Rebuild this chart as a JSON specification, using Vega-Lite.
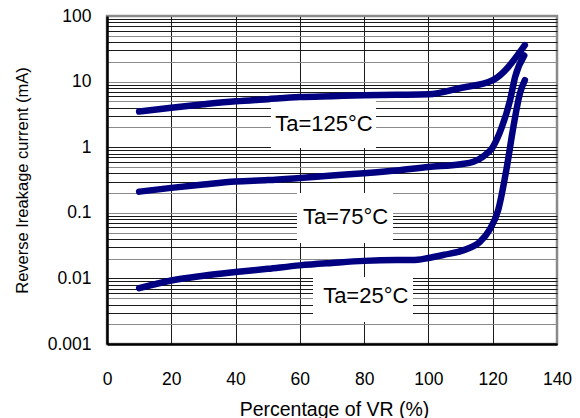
{
  "$schema": "https://vega.github.io/schema/vega-lite/v6.json",
  "width": 450,
  "height": 328,
  "autosize": {"type": "none"},
  "padding": {"left": 107, "top": 16, "right": 23, "bottom": 74},
  "background": "white",
  "config": {
    "font": "Liberation Sans",
    "view": {"stroke": "#8a8a8a", "strokeWidth": 2.5}
  },
  "datasets": {
    "curves": [
      {"s": "125", "x": 10, "y": 3.5},
      {"s": "125", "x": 20, "y": 4.0},
      {"s": "125", "x": 30, "y": 4.5},
      {"s": "125", "x": 40, "y": 5.0},
      {"s": "125", "x": 50, "y": 5.4},
      {"s": "125", "x": 60, "y": 5.8},
      {"s": "125", "x": 70, "y": 6.0},
      {"s": "125", "x": 80, "y": 6.2},
      {"s": "125", "x": 90, "y": 6.3},
      {"s": "125", "x": 100, "y": 6.4},
      {"s": "125", "x": 110, "y": 8.0},
      {"s": "125", "x": 120, "y": 10.5},
      {"s": "125", "x": 130, "y": 36},
      {"s": "75", "x": 10, "y": 0.21},
      {"s": "75", "x": 20, "y": 0.24},
      {"s": "75", "x": 30, "y": 0.27},
      {"s": "75", "x": 40, "y": 0.30},
      {"s": "75", "x": 50, "y": 0.315},
      {"s": "75", "x": 60, "y": 0.34},
      {"s": "75", "x": 70, "y": 0.37},
      {"s": "75", "x": 80, "y": 0.40},
      {"s": "75", "x": 90, "y": 0.44},
      {"s": "75", "x": 100, "y": 0.50},
      {"s": "75", "x": 110, "y": 0.55},
      {"s": "75", "x": 114, "y": 0.6},
      {"s": "75", "x": 117, "y": 0.72},
      {"s": "75", "x": 120, "y": 1.0},
      {"s": "75", "x": 122.8, "y": 2.0},
      {"s": "75", "x": 125.4, "y": 5.2},
      {"s": "75", "x": 127, "y": 11.9},
      {"s": "75", "x": 129.8, "y": 25},
      {"s": "25", "x": 10, "y": 0.0071},
      {"s": "25", "x": 20, "y": 0.0093},
      {"s": "25", "x": 30, "y": 0.011},
      {"s": "25", "x": 40, "y": 0.0125},
      {"s": "25", "x": 50, "y": 0.014},
      {"s": "25", "x": 60, "y": 0.0158},
      {"s": "25", "x": 70, "y": 0.0172},
      {"s": "25", "x": 80, "y": 0.0185},
      {"s": "25", "x": 90, "y": 0.019},
      {"s": "25", "x": 95, "y": 0.019},
      {"s": "25", "x": 100, "y": 0.0205},
      {"s": "25", "x": 105, "y": 0.023},
      {"s": "25", "x": 111, "y": 0.027},
      {"s": "25", "x": 116, "y": 0.036},
      {"s": "25", "x": 119, "y": 0.055},
      {"s": "25", "x": 121.7, "y": 0.11},
      {"s": "25", "x": 124.4, "y": 0.5},
      {"s": "25", "x": 126.4, "y": 2.0},
      {"s": "25", "x": 128.5, "y": 6.7},
      {"s": "25", "x": 130, "y": 10.5}
    ],
    "labels": [
      {"text": "Ta=125°C", "x": 67.5, "y": 2.26, "bx1": 51, "bx2": 83.7, "by1": 0.973, "by2": 5.62},
      {"text": "Ta=75°C", "x": 74.2, "y": 0.0863, "bx1": 59.1, "bx2": 89.0, "by1": 0.0347, "by2": 0.2},
      {"text": "Ta=25°C", "x": 80.5, "y": 0.0054, "bx1": 64.1, "bx2": 95.2, "by1": 0.00216, "by2": 0.0105}
    ]
  },
  "layer": [
    {
      "data": {"name": "labels"},
      "mark": {"type": "rect", "fill": "white"},
      "encoding": {
        "x": {
          "field": "bx1", "type": "quantitative",
          "scale": {"domain": [0, 140], "nice": false},
          "axis": {
            "values": [0, 20, 40, 60, 80, 100, 120, 140],
            "format": "d",
            "grid": true,
            "gridColor": {"condition": {"test": "datum.value == 0 || datum.value == 140", "value": "#8a8a8a"}, "value": "#1a1a1a"},
            "gridWidth": 1,
            "gridOpacity": 1,
            "ticks": false,
            "labelFlush": false,
            "labelPadding": 26,
            "labelFontSize": 17.5,
            "labelColor": "black",
            "domainColor": "black",
            "domainWidth": 2.5,
            "title": "Percentage of VR (%)",
            "titleFontSize": 19.5,
            "titleFontWeight": "normal",
            "titleColor": "black",
            "titleX": 227,
            "titleY": 71,
            "titleBaseline": "alphabetic",
            "titleAlign": "center"
          }
        },
        "x2": {"field": "bx2"},
        "y": {
          "field": "by1", "type": "quantitative",
          "scale": {"type": "log", "domain": [0.001, 100], "nice": false},
          "axis": {
            "values": [0.001, 0.002, 0.003, 0.004, 0.005, 0.006, 0.007, 0.008, 0.009,
                       0.01, 0.02, 0.03, 0.04, 0.05, 0.06, 0.07, 0.08, 0.09,
                       0.1, 0.2, 0.3, 0.4, 0.5, 0.6, 0.7, 0.8, 0.9,
                       1, 2, 3, 4, 5, 6, 7, 8, 9,
                       10, 20, 30, 40, 50, 60, 70, 80, 90, 100],
            "format": "~g",
            "labelExpr": "indexof([0.001, 0.01, 0.1, 1, 10, 100], datum.value) >= 0 ? datum.label : ''",
            "labelOverlap": false,
            "labelFlush": false,
            "grid": true,
            "gridColor": {"condition": {"test": "indexof([0.002, 0.005, 0.02, 0.05, 0.1, 0.2, 0.5, 2, 5, 10, 20, 50, 100], datum.value) >= 0", "value": "#8a8a8a"}, "value": "#1a1a1a"},
            "gridWidth": 1,
            "gridOpacity": 1,
            "ticks": false,
            "labelPadding": 16,
            "labelFontSize": 17.5,
            "labelColor": "black",
            "domainColor": "black",
            "domainWidth": 2.5,
            "title": "Reverse Ireakage current (mA)",
            "titleFontSize": 16.5,
            "titleFontWeight": "normal",
            "titleColor": "black",
            "titleX": -85,
            "titleY": 164,
            "titleAngle": 270,
            "titleBaseline": "middle",
            "titleAlign": "center"
          }
        },
        "y2": {"field": "by2"}
      }
    },
    {
      "data": {"name": "curves"},
      "mark": {"type": "line", "interpolate": "monotone", "strokeWidth": 6.5, "color": "#000080", "strokeCap": "round", "strokeJoin": "round"},
      "encoding": {
        "x": {"field": "x", "type": "quantitative"},
        "y": {"field": "y", "type": "quantitative"},
        "detail": {"field": "s"}
      }
    },
    {
      "data": {"name": "labels"},
      "mark": {"type": "text", "fontSize": 22, "font": "Liberation Sans", "color": "black", "align": "center", "baseline": "middle"},
      "encoding": {
        "x": {"field": "x", "type": "quantitative"},
        "y": {"field": "y", "type": "quantitative"},
        "text": {"field": "text"}
      }
    }
  ]
}
